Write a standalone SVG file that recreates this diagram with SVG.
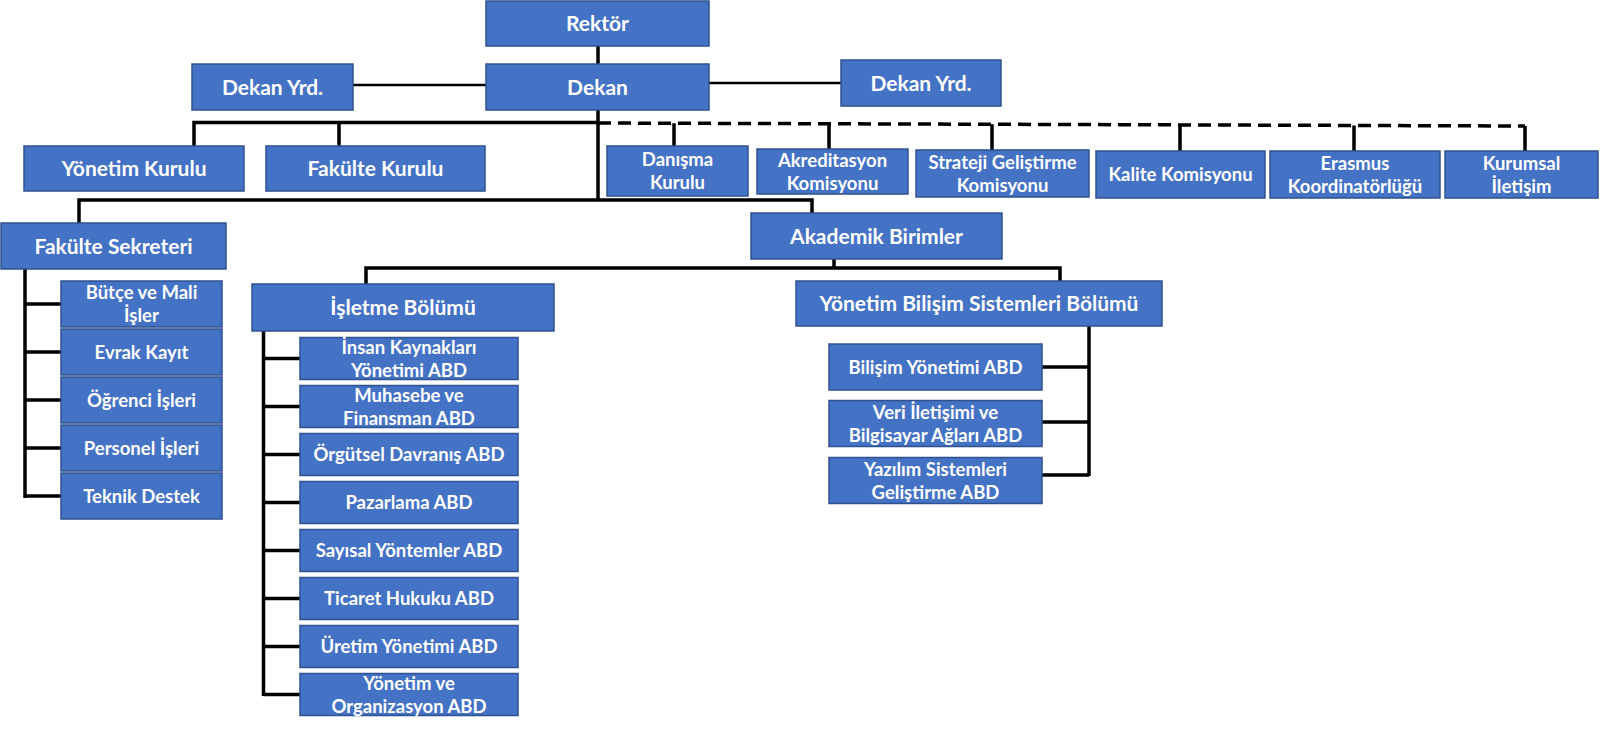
<svg xmlns="http://www.w3.org/2000/svg" width="1600" height="732" viewBox="0 0 1600 732">
<style>
.b{fill:#4472C4;stroke:#2F528F;stroke-width:1.5}
.t{fill:#fff;font-family:Lato,"Liberation Sans",sans-serif;font-weight:bold;font-size:18.5px;text-anchor:middle}
.h{font-size:21px}
.c{fill:none;stroke:#000;stroke-width:3.5}
.thin{stroke-width:2.5}
.d{fill:none;stroke:#000;stroke-width:3.5;stroke-dasharray:13 7}
</style>
<rect width="1600" height="732" fill="#fff"/>
<g id="connectors">
<path class="c" d="M598,46V64"/>
<path class="c thin" d="M353,85H486"/>
<path class="c thin" d="M709,83H841"/>
<path class="c" d="M598,110V200"/>
<path class="c" d="M598,122.5H194V146M339,122.5V146"/>
<path class="c" d="M79,223V200H812V213"/>
<path class="d" d="M598,123L1525,126"/>
<path class="c" d="M674,123.3V146M829,123.8V149M992,124.3V150M1180,124.9V151M1354,125.5V151M1525,126V151"/>
<path class="c" d="M25,269V498M25,304H61M25,352H61M25,400H61M25,448H61M25,496H61"/>
<path class="c" d="M834,259V268M366,284V268H1060V281"/>
<path class="c" d="M263.5,331V696M263.5,358.5H300M263.5,406.5H300M263.5,454.5H300M263.5,502.5H300M263.5,550.5H300M263.5,598.5H300M263.5,646.5H300M263.5,694.5H300"/>
<path class="c" d="M1089,326V476M1042,367H1089M1042,422H1089M1042,475H1089"/>
</g>
<g id="rektor"><rect class="b" x="486" y="1" width="223" height="45"/><text class="t h" x="597.5" y="31">Rektör</text></g>
<g id="dekan"><rect class="b" x="486" y="64" width="223" height="46"/><text class="t h" x="597.5" y="94.5">Dekan</text></g>
<g id="dekan-yrd-1"><rect class="b" x="192" y="64" width="161" height="46"/><text class="t h" x="272.5" y="94.5">Dekan Yrd.</text></g>
<g id="dekan-yrd-2"><rect class="b" x="841" y="60" width="160" height="46"/><text class="t h" x="921" y="90.5">Dekan Yrd.</text></g>
<g id="yonetim-kurulu"><rect class="b" x="24" y="146" width="220" height="45"/><text class="t h" x="134" y="176">Yönetim Kurulu</text></g>
<g id="fakulte-kurulu"><rect class="b" x="266" y="146" width="219" height="45"/><text class="t h" x="375.5" y="176">Fakülte Kurulu</text></g>
<g id="fakulte-sekreteri"><rect class="b" x="1" y="223" width="225" height="46"/><text class="t h" x="113.5" y="253.5">Fakülte Sekreteri</text></g>
<g id="akademik-birimler"><rect class="b" x="751" y="213" width="251" height="46"/><text class="t h" x="876.5" y="243.5">Akademik Birimler</text></g>
<g id="danisma"><rect class="b" x="607" y="146" width="141" height="50"/><text class="t" x="677.5" y="166">Danışma</text><text class="t" x="677.5" y="189">Kurulu</text></g>
<g id="akreditasyon"><rect class="b" x="757" y="149" width="151" height="45"/><text class="t" x="832.5" y="166.5">Akreditasyon</text><text class="t" x="832.5" y="189.5">Komisyonu</text></g>
<g id="strateji"><rect class="b" x="916" y="150" width="173" height="47"/><text class="t" x="1002.5" y="168.5">Strateji Geliştirme</text><text class="t" x="1002.5" y="191.5">Komisyonu</text></g>
<g id="kalite"><rect class="b" x="1096" y="151" width="169" height="47"/><text class="t" x="1180.5" y="181">Kalite Komisyonu</text></g>
<g id="erasmus"><rect class="b" x="1270" y="151" width="170" height="47"/><text class="t" x="1355" y="169.5">Erasmus</text><text class="t" x="1355" y="192.5">Koordinatörlüğü</text></g>
<g id="kurumsal"><rect class="b" x="1445" y="151" width="153" height="47"/><text class="t" x="1521.5" y="169.5">Kurumsal</text><text class="t" x="1521.5" y="192.5">İletişim</text></g>
<g id="butce"><rect class="b" x="61" y="281" width="161" height="46"/><text class="t" x="141.5" y="299">Bütçe ve Mali</text><text class="t" x="141.5" y="322">İşler</text></g>
<g id="evrak"><rect class="b" x="61" y="329" width="161" height="46"/><text class="t" x="141.5" y="358.5">Evrak Kayıt</text></g>
<g id="ogrenci"><rect class="b" x="61" y="377" width="161" height="46"/><text class="t" x="141.5" y="406.5">Öğrenci İşleri</text></g>
<g id="personel"><rect class="b" x="61" y="425" width="161" height="46"/><text class="t" x="141.5" y="454.5">Personel İşleri</text></g>
<g id="teknik"><rect class="b" x="61" y="473" width="161" height="46"/><text class="t" x="141.5" y="502.5">Teknik Destek</text></g>
<g id="isletme"><rect class="b" x="252" y="284" width="302" height="47"/><text class="t h" x="403" y="315">İşletme Bölümü</text></g>
<g id="insan"><rect class="b" x="300" y="337.5" width="218" height="42"/><text class="t" x="409" y="353.5">İnsan Kaynakları</text><text class="t" x="409" y="376.5">Yönetimi ABD</text></g>
<g id="muhasebe"><rect class="b" x="300" y="385.5" width="218" height="42"/><text class="t" x="409" y="401.5">Muhasebe ve</text><text class="t" x="409" y="424.5">Finansman ABD</text></g>
<g id="orgutsel"><rect class="b" x="300" y="433.5" width="218" height="42"/><text class="t" x="409" y="461">Örgütsel Davranış ABD</text></g>
<g id="pazarlama"><rect class="b" x="300" y="481.5" width="218" height="42"/><text class="t" x="409" y="509">Pazarlama ABD</text></g>
<g id="sayisal"><rect class="b" x="300" y="529.5" width="218" height="42"/><text class="t" x="409" y="557">Sayısal Yöntemler ABD</text></g>
<g id="ticaret"><rect class="b" x="300" y="577.5" width="218" height="42"/><text class="t" x="409" y="605">Ticaret Hukuku ABD</text></g>
<g id="uretim"><rect class="b" x="300" y="625.5" width="218" height="42"/><text class="t" x="409" y="653">Üretim Yönetimi ABD</text></g>
<g id="yonetim-org"><rect class="b" x="300" y="673.5" width="218" height="42"/><text class="t" x="409" y="689.5">Yönetim ve</text><text class="t" x="409" y="712.5">Organizasyon ABD</text></g>
<g id="ybs"><rect class="b" x="796" y="281" width="366" height="45"/><text class="t h" x="979" y="311">Yönetim Bilişim Sistemleri Bölümü</text></g>
<g id="bilisim"><rect class="b" x="829" y="344" width="213" height="46"/><text class="t" x="935.5" y="373.5">Bilişim Yönetimi ABD</text></g>
<g id="veri"><rect class="b" x="829" y="400.5" width="213" height="46"/><text class="t" x="935.5" y="418.5">Veri İletişimi ve</text><text class="t" x="935.5" y="441.5">Bilgisayar Ağları ABD</text></g>
<g id="yazilim"><rect class="b" x="829" y="457.5" width="213" height="46"/><text class="t" x="935.5" y="475.5">Yazılım Sistemleri</text><text class="t" x="935.5" y="498.5">Geliştirme ABD</text></g>
</svg>
